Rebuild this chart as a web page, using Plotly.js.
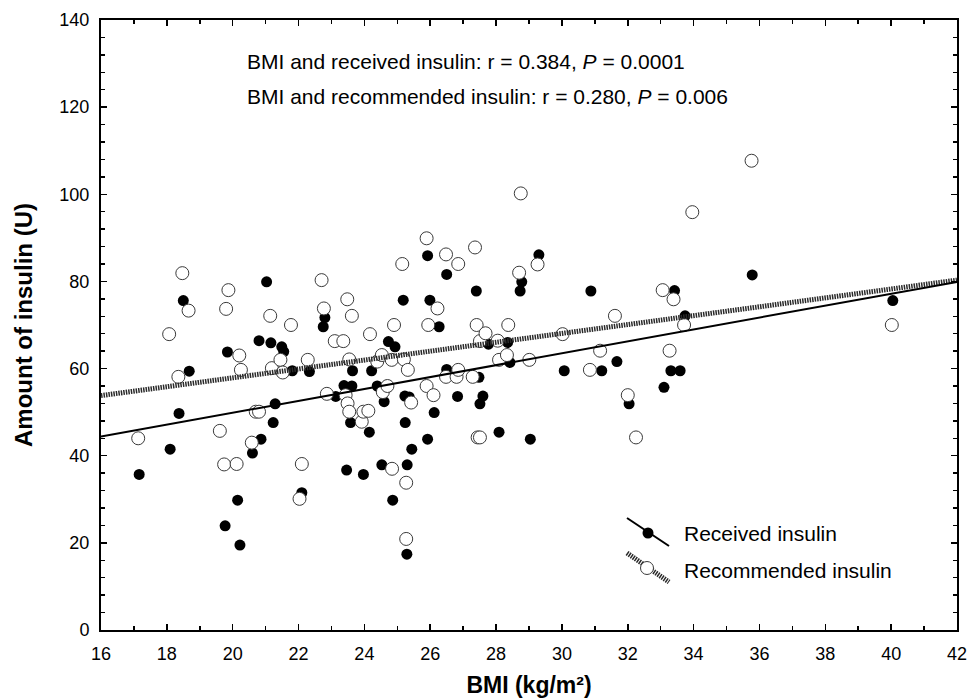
<!DOCTYPE html>
<html>
<head>
<meta charset="utf-8">
<script src="https://cdn.plot.ly/plotly-3.0.1.min.js"></script>
<style>html,body{margin:0;padding:0;background:#fff;}#chart{width:969px;height:700px;}</style>
</head>
<body>
<div id="chart"></div>
<script>
// BMI (kg/m2) and received insulin (U) — filled circles
const receivedBMI = [17.16,18.10,18.37,18.50,18.68,19.74,19.77,19.84,20.15,20.22,20.60,20.80,20.86,21.03,21.16,21.23,21.29,21.49,21.55,21.81,22.10,22.33,22.75,22.80,23.13,23.38,23.46,23.58,23.62,23.64,23.97,24.15,24.22,24.39,24.53,24.60,24.73,24.86,24.93,25.18,25.23,25.24,25.29,25.30,25.36,25.44,25.92,25.92,25.99,26.12,26.27,26.50,26.50,26.83,27.40,27.48,27.51,27.60,27.77,28.09,28.35,28.42,28.73,28.78,29.04,29.30,30.07,30.88,31.21,31.67,32.04,33.10,33.31,33.42,33.59,33.74,35.78,40.05];
const receivedInsulin = [35.7,41.5,49.7,75.6,59.4,38.0,23.9,63.8,29.8,19.5,40.6,66.4,43.8,79.9,65.9,47.6,51.9,65.0,63.9,59.5,31.5,59.3,69.6,71.7,53.6,56.1,36.7,47.6,56.0,59.5,35.7,45.4,59.5,56.0,37.9,52.4,66.2,29.8,65.0,75.7,53.7,47.6,17.4,37.9,53.5,41.5,85.9,43.8,75.7,49.9,69.6,81.6,59.8,53.6,77.8,58.0,51.9,53.7,65.6,45.4,66.0,61.4,77.8,79.9,43.8,86.1,59.5,77.8,59.5,61.6,51.9,55.7,59.5,77.9,59.5,72.1,81.5,75.6];

// BMI (kg/m2) and recommended insulin (U) — open circles
const recommendedBMI = [17.13,18.07,18.35,18.47,18.66,19.61,19.74,19.80,19.87,20.12,20.20,20.25,20.58,20.70,20.80,21.14,21.19,21.45,21.52,21.77,22.03,22.10,22.28,22.70,22.77,22.86,23.10,23.36,23.43,23.48,23.49,23.54,23.54,23.62,23.92,23.97,24.12,24.17,24.39,24.53,24.56,24.70,24.83,24.84,24.90,25.15,25.20,25.27,25.27,25.32,25.42,25.89,25.89,25.94,26.10,26.22,26.48,26.48,26.80,26.85,26.85,27.29,27.36,27.41,27.44,27.51,27.51,27.68,28.05,28.09,28.33,28.37,28.70,28.75,29.01,29.26,30.02,30.85,31.16,31.61,32.00,32.25,33.06,33.27,33.39,33.71,33.96,35.76,40.02];
const recommendedInsulin = [44.0,67.9,58.1,81.9,73.3,45.7,38.0,73.7,78.0,38.1,63.0,59.7,43.0,50.1,50.1,72.1,60.1,62.0,59.1,70.0,30.1,38.1,62.0,80.3,73.8,54.2,66.3,66.3,53.9,75.9,52.0,50.1,62.1,72.1,47.8,50.1,50.3,67.9,61.6,63.1,54.6,56.0,62.0,37.0,70.0,84.0,62.1,33.8,20.9,59.7,52.2,89.9,56.0,70.0,53.9,73.8,86.2,58.1,58.1,84.0,59.7,58.1,87.8,70.0,44.2,44.2,66.3,68.1,66.4,62.0,63.1,70.0,82.0,100.2,62.0,83.9,67.9,59.7,64.1,72.1,53.9,44.2,78.0,64.1,75.9,70.0,95.9,107.7,70.0];

// Regression lines (values read at the ends of the x range)
const fitX = [16, 42];
const receivedFit = [44.4, 79.9];
const recommendedFit = [53.8, 80.3];

// Texts
const statLines = [
  'BMI and received insulin: r = 0.384, <i>P</i> = 0.0001',
  'BMI and recommended insulin: r = 0.280, <i>P</i> = 0.006'
];
const legendNames = ['Received insulin', 'Recommended insulin'];
const xTitle = 'BMI (kg/m²)';
const yTitle = 'Amount of insulin (U)';
const xTickVals = [16,18,20,22,24,26,28,30,32,34,36,38,40,42];
const yTickVals = [0,20,40,60,80,100,120,140];

const FONT = 'Liberation Sans, Arial, sans-serif';
const HATCH = {color: '#2a2a2a', width: 5, dash: '1.5px,1px'};

const traces = [
  {x: receivedBMI, y: receivedInsulin, mode: 'markers', type: 'scatter',
   marker: {symbol: 'circle', size: 11, color: '#000', line: {width: 0}}, showlegend: false, hoverinfo: 'skip'},
  {x: recommendedBMI, y: recommendedInsulin, mode: 'markers', type: 'scatter',
   marker: {symbol: 'circle', size: 13, color: '#fff', line: {width: 1, color: '#3a3a3a'}}, showlegend: false, hoverinfo: 'skip'},
  {x: fitX, y: recommendedFit, mode: 'lines', type: 'scatter',
   line: HATCH, showlegend: false, hoverinfo: 'skip'},
  {x: fitX, y: receivedFit, mode: 'lines', type: 'scatter',
   line: {color: '#000', width: 2}, showlegend: false, hoverinfo: 'skip'}
];

const px = v => (v - 101) / 856;
const py = v => (630 - v) / 610;

const shapes = [
  {type: 'line', xref: 'paper', yref: 'paper', x0: px(627), y0: py(518), x1: px(669), y1: py(546), line: {color: '#000', width: 2}},
  {type: 'circle', xref: 'paper', yref: 'paper', x0: px(642.5), x1: px(653.5), y0: py(538.5), y1: py(527.5), fillcolor: '#000', line: {color: '#000', width: 0}},
  {type: 'line', xref: 'paper', yref: 'paper', x0: px(627), y0: py(553), x1: px(669), y1: py(582), line: HATCH},
  {type: 'circle', xref: 'paper', yref: 'paper', x0: px(640.5), x1: px(653.5), y0: py(574.5), y1: py(561.5), fillcolor: '#fff', line: {color: '#3a3a3a', width: 1}}
];

const annotations = [
  {xref: 'paper', yref: 'paper', x: px(245), y: py(61), xanchor: 'left', yanchor: 'middle', showarrow: false, text: statLines[0], font: {family: FONT, size: 21, color: '#000'}},
  {xref: 'paper', yref: 'paper', x: px(245), y: py(97), xanchor: 'left', yanchor: 'middle', showarrow: false, text: statLines[1], font: {family: FONT, size: 21, color: '#000'}},
  {xref: 'paper', yref: 'paper', x: px(682), y: py(533), xanchor: 'left', yanchor: 'middle', showarrow: false, text: legendNames[0], font: {family: FONT, size: 21, color: '#000'}},
  {xref: 'paper', yref: 'paper', x: px(682), y: py(570), xanchor: 'left', yanchor: 'middle', showarrow: false, text: legendNames[1], font: {family: FONT, size: 21, color: '#000'}}
];

const layout = {
  width: 969, height: 700,
  margin: {l: 101, r: 12, t: 20, b: 70},
  paper_bgcolor: '#fff', plot_bgcolor: '#fff',
  font: {family: FONT, size: 18, color: '#000'},
  showlegend: false,
  xaxis: {
    range: [16, 42], tickvals: xTickVals, ticks: 'inside', ticklen: 6, tickwidth: 1.5, tickcolor: '#000',
    minor: {dtick: 1, ticks: 'inside', ticklen: 4, tickwidth: 1.5, tickcolor: '#000'},
    showline: true, linecolor: '#000', linewidth: 2, mirror: 'ticks', showgrid: false, zeroline: false,
    tickfont: {family: FONT, size: 18}, ticklabelstandoff: 6,
    title: {text: '<b>' + xTitle + '</b>', font: {family: FONT, size: 23}, standoff: 14}
  },
  yaxis: {
    range: [0, 140], tickvals: yTickVals, ticks: 'inside', ticklen: 6, tickwidth: 1.5, tickcolor: '#000',
    minor: {dtick: 4, ticks: 'inside', ticklen: 4, tickwidth: 1.5, tickcolor: '#000'},
    showline: true, linecolor: '#000', linewidth: 2, mirror: 'ticks', showgrid: false, zeroline: false,
    tickfont: {family: FONT, size: 18}, ticklabelstandoff: 6,
    title: {text: '<b>' + yTitle + '</b>', font: {family: FONT, size: 24}, standoff: 20}
  },
  shapes: shapes,
  annotations: annotations
};

Plotly.newPlot('chart', traces, layout, {displayModeBar: false, staticPlot: true});
</script>
</body>
</html>
